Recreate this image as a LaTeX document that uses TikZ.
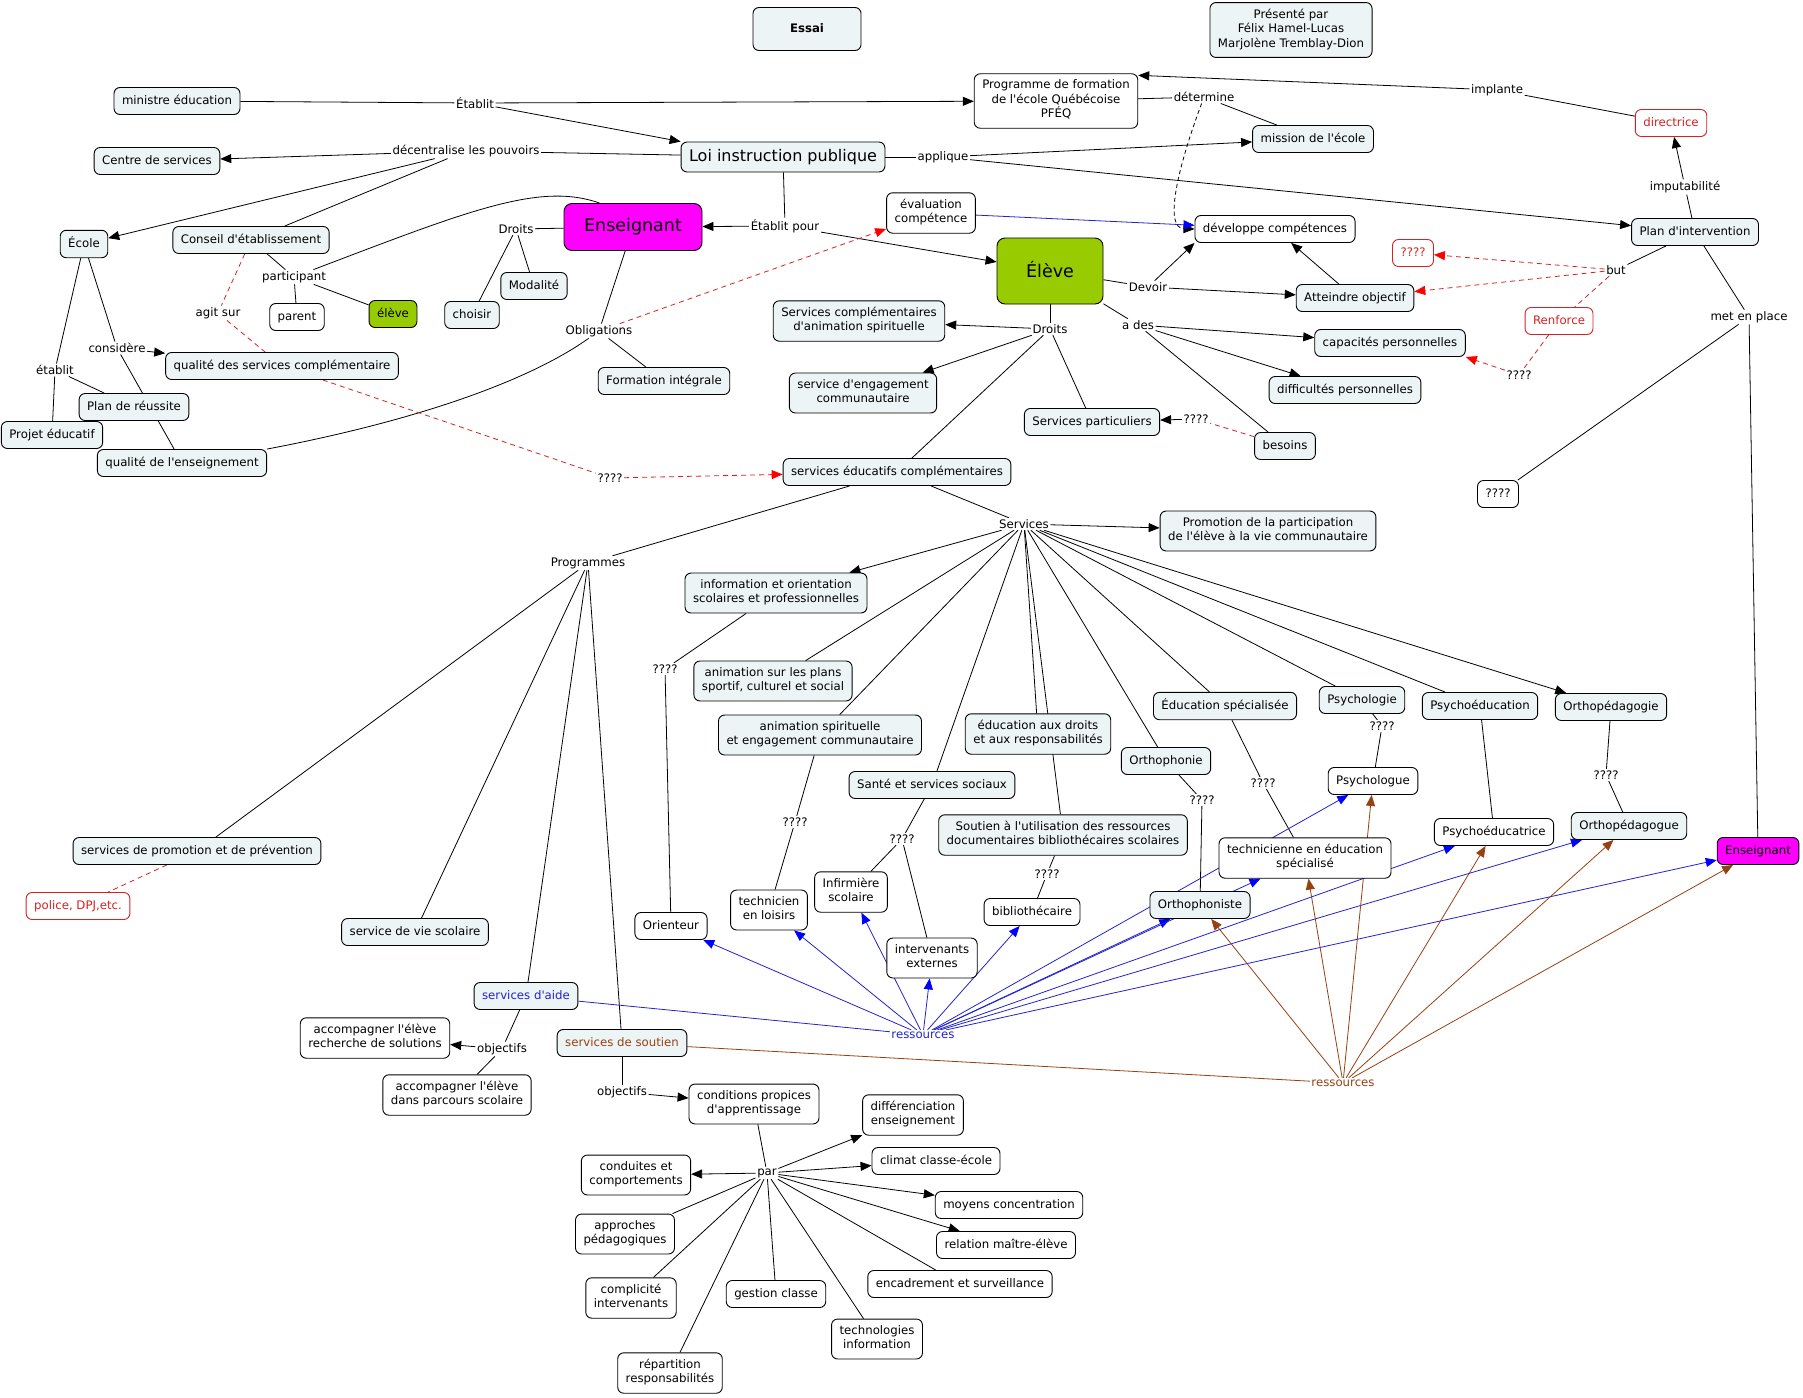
\documentclass[tikz,border=0pt]{standalone}
\usepackage{fontspec}
\setmainfont{DejaVu Sans}[Ligatures=TeXOff]
\usetikzlibrary{arrows.meta,backgrounds}
\definecolor{cfill}{RGB}{237,244,246}
\definecolor{cgreen}{RGB}{153,204,0}
\definecolor{cmag}{RGB}{255,0,255}
\definecolor{cred}{RGB}{214,34,34}
\definecolor{cblue}{RGB}{35,35,205}
\definecolor{cbrown}{RGB}{150,65,20}
\newcommand\cmstrut{\vrule width0pt height10.5pt depth4pt}

\begin{document}
\begin{tikzpicture}[x=1pt,y=-1pt,
  every node/.style={font=\fontsize{11.75}{14.5}\selectfont},
  box/.style={draw,line width=0.9pt,rounded corners=6pt,fill=cfill,align=center,
    inner xsep=8pt,inner ysep=6.25pt,execute at begin node=\cmstrut,execute at end node=\cmstrut},
  wbox/.style={box,fill=white},
  rbox/.style={box,fill=white,draw=cred,text=cred},
  big/.style={box,rounded corners=8pt,font=\fontsize{17.5}{21}\selectfont},
  lab/.style={fill=white,inner sep=1.5pt},
  link/.style={line width=0.8pt},
  arr/.style={link,-{Triangle[length=11pt,width=9pt]}},
  kdash/.style={arr,dash pattern=on 4pt off 3pt},
  rdash/.style={line width=0.8pt,draw=cred,dash pattern=on 5pt off 4pt},
  rarr/.style={rdash,-{Triangle[length=11pt,width=9pt,color=red]}},
  blink/.style={line width=0.8pt,draw=cblue},
  barr/.style={blink,-{Triangle[length=11pt,width=9pt,color=blue]}},
  nlink/.style={line width=0.8pt,draw=cbrown},
  narr/.style={nlink,-{Triangle[length=11pt,width=9pt]}}]
\useasboundingbox (0,0) rectangle (1803,1397);
\begin{scope}[on background layer]
\fill[white] (0,0) rectangle (1803,1397);
\end{scope}

% concepts
\node[box,font=\fontsize{11.75}{14.5}\selectfont\bfseries,minimum width=108pt,minimum height=43pt] (essai) at (807,29) {Essai};
\node[box] (pres) at (1291,30) {Présenté par\\Félix Hamel-Lucas\\Marjolène Tremblay-Dion};
\node[box] (ministre) at (177,101) {ministre éducation};
\node[wbox] (pfeq) at (1056,101) {Programme de formation\\de l'école Québécoise\\PFÉQ};
\node[box] (centre) at (157,161) {Centre de services};
\node[box,font=\fontsize{16}{19}\selectfont,minimum height=30pt] (loi) at (783,157) {Loi instruction publique};
\node[box] (mission) at (1313,139) {mission de l'école};
\node[rbox] (directrice) at (1671,123) {directrice};
\node[box] (ecole) at (84,244) {École};
\node[box] (conseil) at (251,240) {Conseil d'établissement};
\node[big,fill=cmag,minimum width=138pt,minimum height=47pt] (ens) at (633,227) {Enseignant};
\node[wbox] (evalc) at (931,213) {évaluation\\compétence};
\node[wbox] (devcomp) at (1275,229) {développe compétences};
\node[big,fill=cgreen,minimum width=106pt,minimum height=66pt] (eleve) at (1050,271) {Élève};
\node[box] (planint) at (1695,232) {Plan d'intervention};
\node[rbox] (qqred) at (1413,253) {????};
\node[box] (atteindre) at (1355,298) {Atteindre objectif};
\node[wbox] (parent) at (297,317) {parent};
\node[box,fill=cgreen] (eleveg) at (393,314) {élève};
\node[box] (choisir) at (472,315) {choisir};
\node[box] (modalite) at (534,286) {Modalité};
\node[box] (scas) at (859,321) {Services complémentaires\\d'animation spirituelle};
\node[box] (capac) at (1390,343) {capacités personnelles};
\node[rbox] (renforce) at (1559,321) {Renforce};
\node[box] (qsc) at (282,366) {qualité des services complémentaire};
\node[box] (formint) at (664,381) {Formation intégrale};
\node[box] (sengc) at (863,393) {service d'engagement\\communautaire};
\node[box] (diffic) at (1345,390) {difficultés personnelles};
\node[box] (planreu) at (134,407) {Plan de réussite};
\node[box] (projet) at (52,435) {Projet éducatif};
\node[box] (servpart) at (1092,422) {Services particuliers};
\node[box] (besoins) at (1285,446) {besoins};
\node[box] (qens) at (182,463) {qualité de l'enseignement};
\node[box] (sec) at (897,472) {services éducatifs complémentaires};
\node[wbox] (qqbox) at (1498,494) {????};
\node[box] (promo) at (1268,531) {Promotion de la participation\\de l'élève à la vie communautaire};
\node[box] (info) at (776,593) {information et orientation\\scolaires et professionnelles};
\node[box] (animsport) at (773,681) {animation sur les plans\\sportif, culturel et social};
\node[box] (psychologie) at (1362,700) {Psychologie};
\node[box] (psychoeduc) at (1480,706) {Psychoéducation};
\node[box] (orthoped) at (1611,707) {Orthopédagogie};
\node[box] (edspec) at (1225,706) {Éducation spécialisée};
\node[box] (educdroits) at (1038,734) {éducation aux droits\\et aux responsabilités};
\node[box] (animspir) at (820,735) {animation spirituelle\\et engagement communautaire};
\node[box] (orthophonie) at (1166,761) {Orthophonie};
\node[wbox] (psychologue) at (1373,781) {Psychologue};
\node[box] (sante) at (932,785) {Santé et services sociaux};
\node[box] (orthopedagogue) at (1629,826) {Orthopédagogue};
\node[wbox] (psychoeducatrice) at (1494,832) {Psychoéducatrice};
\node[box] (soutien) at (1063,835) {Soutien à l'utilisation des ressources\\documentaires bibliothécaires scolaires};
\node[box,fill=cmag] (ens2) at (1758,851) {Enseignant};
\node[box] (prom) at (197,851) {services de promotion et de prévention};
\node[wbox] (techn) at (1305,858) {technicienne en éducation\\spécialisé};
\node[wbox] (infirm) at (851,892) {Infirmière\\scolaire};
\node[box] (orthophoniste) at (1200,905) {Orthophoniste};
\node[rbox] (police) at (78,906) {police, DPJ,etc.};
\node[wbox] (techloisirs) at (769,910) {technicien\\en loisirs};
\node[wbox] (biblio) at (1032,912) {bibliothécaire};
\node[wbox] (orienteur) at (671,926) {Orienteur};
\node[box] (viescol) at (415,932) {service de vie scolaire};
\node[wbox] (intervext) at (932,958) {intervenants\\externes};
\node[box,text=cblue] (aide) at (526,996) {services d'aide};
\node[wbox] (accrech) at (375,1038) {accompagner l'élève\\recherche de solutions};
\node[box,text=cbrown] (soutienserv) at (622,1043) {services de soutien};
\node[wbox] (accparc) at (457,1095) {accompagner l'élève\\dans parcours scolaire};
\node[wbox] (condit) at (754,1104) {conditions propices\\d'apprentissage};
\node[wbox] (differ) at (913,1115) {différenciation\\enseignement};
\node[wbox] (climat) at (936,1161) {climat classe-école};
\node[wbox] (conduites) at (636,1175) {conduites et\\comportements};
\node[wbox] (moyens) at (1009,1205) {moyens concentration};
\node[wbox] (approches) at (625,1234) {approches\\pédagogiques};
\node[wbox] (relation) at (1006,1245) {relation maître-élève};
\node[wbox] (encadr) at (960,1284) {encadrement et surveillance};
\node[wbox] (gestion) at (776,1294) {gestion classe};
\node[wbox] (complic) at (631,1298) {complicité\\intervenants};
\node[wbox] (technol) at (877,1339) {technologies\\information};
\node[wbox] (repart) at (670,1373) {répartition\\responsabilités};

% linking phrases
\node[lab] (etablit) at (475,103) {Établit};
\node[lab] (decent) at (466,151) {décentralise les pouvoirs};
\node[lab] (applique) at (943,157) {applique};
\node[lab] (determine) at (1204,97) {détermine};
\node[lab] (implante) at (1497,90) {implante};
\node[lab] (imputab) at (1685,187) {imputabilité};
\node[lab] (etabpour) at (785,226) {Établit pour};
\node[lab] (droitsens) at (516,229) {Droits};
\node[lab] (particip) at (294,277) {participant};
\node[lab] (agitsur) at (218,313) {agit sur};
\node[lab] (devoir) at (1148,287) {Devoir};
\node[lab] (but) at (1616,270) {but};
\node[lab] (droitsel) at (1050,329) {Droits};
\node[lab] (ades) at (1138,325) {a des};
\node[lab] (oblig) at (599,331) {Obligations};
\node[lab] (considere) at (117,348) {considère};
\node[lab] (etablitb) at (55,370) {établit};
\node[lab] (qqrenf) at (1519,375) {????};
\node[lab] (qqbes) at (1196,419) {????};
\node[lab] (metplace) at (1749,317) {met en place};
\node[lab] (qqqsc) at (610,478) {????};
\node[lab] (services) at (1024,524) {Services};
\node[lab] (programmes) at (588,563) {Programmes};
\node[lab] (qqinfo) at (665,669) {????};
\node[lab] (qqpsy) at (1382,726) {????};
\node[lab] (qqortho) at (1606,775) {????};
\node[lab] (qqspec) at (1263,783) {????};
\node[lab] (qqphon) at (1202,800) {????};
\node[lab] (qqspir) at (795,822) {????};
\node[lab] (qqsante) at (902,839) {????};
\node[lab] (qqbib) at (1047,874) {????};
\node[lab,text=cblue] (ressa) at (923,1035) {ressources};
\node[lab,text=cbrown] (ressb) at (1343,1083) {ressources};
\node[lab] (obja) at (502,1049) {objectifs};
\node[lab] (objb) at (622,1092) {objectifs};
\node[lab] (par) at (767,1173) {par};

\begin{scope}[on background layer]
% top part
\draw[link] (ministre) -- (etablit);
\draw[arr] (etablit) -- (pfeq);
\draw[arr] (etablit) -- (loi.north west);
\draw[link] (loi) -- (decent);
\draw[arr] (decent) -- (centre);
\draw[arr] (decent) -- (ecole);
\draw[link] (decent) -- (conseil);
\draw[link] (loi) -- (applique);
\draw[arr] (applique) -- (mission);
\draw[arr] (applique) -- (planint);
\draw[link] (loi) -- (etabpour);
\draw[arr] (etabpour) -- (ens);
\draw[arr] (etabpour) -- (eleve);
\draw[link] (pfeq) -- (determine);
\draw[link] (determine) -- (mission);
\draw[kdash] (determine) .. controls (1175,175) and (1165,228) .. (devcomp.west);
\draw[link] (directrice) -- (implante);
\draw[arr] (implante) -- ([yshift=-2pt]pfeq.north east);
\draw[link] (planint) -- (imputab);
\draw[arr] (imputab) -- (directrice);
\draw[link] (planint) -- (but);
\draw[rarr] (but) -- (qqred);
\draw[rarr] (but) -- (atteindre);
\draw[rdash] (but) -- (renforce);
\draw[rdash] (renforce) -- (qqrenf);
\draw[rarr] (qqrenf) -- (capac.south east);
\draw[link] (planint) -- (metplace);
\draw[link] (metplace) -- (qqbox);
\draw[link] (metplace) -- (ens2);
\draw[barr] (evalc) -- (devcomp);
% eleve
\draw[link] (eleve) -- (devoir);
\draw[arr] (devoir) -- (devcomp.south west);
\draw[arr] (devoir) -- (atteindre);
\draw[arr] (atteindre) -- (devcomp);
\draw[link] (eleve) -- (ades);
\draw[arr] (ades) -- (capac);
\draw[arr] (ades) -- (diffic);
\draw[link] (ades) -- (besoins);
\draw[rdash] (besoins) -- (qqbes);
\draw[arr] (qqbes) -- (servpart);
\draw[link] (eleve) -- (droitsel);
\draw[arr] (droitsel) -- (scas);
\draw[arr] (droitsel) -- (sengc);
\draw[link] (droitsel) -- (sec);
\draw[link] (droitsel) -- (servpart);
% enseignant
\draw[link] (ens) -- (droitsens);
\draw[link] (droitsens) -- (choisir);
\draw[link] (droitsens) -- (modalite);
\draw[link] (ens) -- (oblig);
\draw[link] (oblig) -- (formint);
\draw[rarr] (oblig) -- (evalc);
\draw[link] (oblig) .. controls (530,380) and (420,420) .. (qens.north east);
% ecole
\draw[link] (conseil) -- (particip);
\draw[link] (particip) -- (parent);
\draw[link] (particip) -- (eleveg);
\draw[link] (particip) .. controls (470,210) and (540,182) .. ([xshift=36pt]ens.north west);
\draw[rdash] (conseil) -- (agitsur);
\draw[rdash] (agitsur) -- (qsc);
\draw[link] (ecole) -- (considere);
\draw[arr] (considere) -- (qsc);
\draw[link] (considere) -- (qens);
\draw[link] (ecole) -- (etablitb);
\draw[link] (etablitb) -- (projet);
\draw[link] (etablitb) -- (planreu);
\draw[rdash] (qsc) -- (qqqsc);
\draw[rarr] (qqqsc) -- (sec);
% services
\draw[link] (sec) -- (services);
\draw[link] (sec) -- (programmes);
\draw[arr] (services) -- (promo);
\draw[arr] (services) -- (info);
\foreach \n in {animsport,animspir,sante,educdroits,soutien,orthophonie,edspec,psychologie,psychoeduc}
  \draw[link] (services) -- (\n);
\draw[arr] (services) -- (orthoped);
\foreach \n in {prom,viescol,aide,soutienserv}
  \draw[link] (programmes) -- (\n);
\draw[rdash] (prom) -- (police);
\draw[link] (info) -- (qqinfo) -- (orienteur);
\draw[link] (animspir) -- (qqspir) -- (techloisirs);
\draw[link] (sante) -- (qqsante);
\draw[link] (qqsante) -- (infirm);
\draw[link] (qqsante) -- (intervext);
\draw[link] (soutien) -- (qqbib) -- (biblio);
\draw[link] (orthophonie) -- (qqphon) -- (orthophoniste);
\draw[link] (edspec) -- (qqspec) -- (techn);
\draw[link] (psychologie) -- (qqpsy) -- (psychologue);
\draw[link] (psychoeduc) -- (psychoeducatrice);
\draw[link] (orthoped) -- (qqortho) -- (orthopedagogue);
% ressources
\draw[blink] (aide) -- (ressa);
\foreach \n in {orienteur,techloisirs,infirm,intervext,biblio,orthophoniste,techn,psychologue,psychoeducatrice,orthopedagogue,ens2}
  \draw[barr] (ressa) -- (\n);
\draw[nlink] (soutienserv) -- (ressb);
\foreach \n in {orthophoniste,techn,psychologue,psychoeducatrice,orthopedagogue,ens2}
  \draw[narr] (ressb) -- (\n);
% objectifs
\draw[link] (aide) -- (obja);
\draw[arr] (obja) -- (accrech);
\draw[link] (obja) -- (accparc);
\draw[link] (soutienserv) -- (objb);
\draw[arr] (objb) -- (condit);
\draw[link] (condit) -- (par);
\foreach \n in {conduites,differ,climat,moyens,relation}
  \draw[arr] (par) -- (\n);
\foreach \n in {approches,complic,repart,gestion,technol,encadr}
  \draw[link] (par) -- (\n);
\end{scope}
\end{tikzpicture}
\end{document}
